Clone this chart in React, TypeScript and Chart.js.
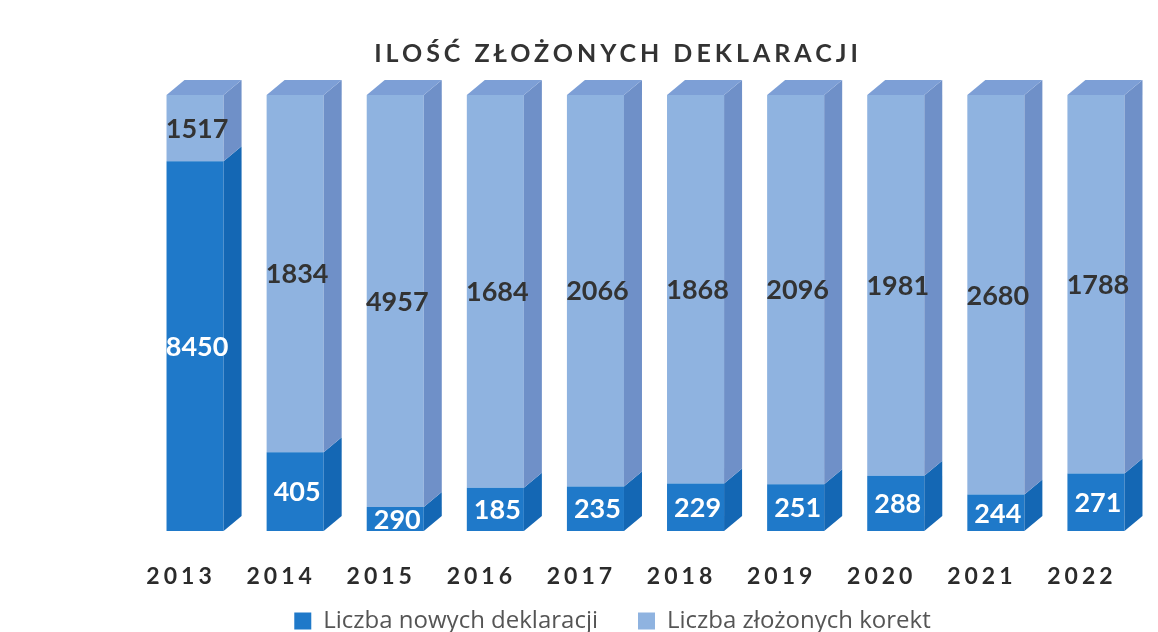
import React, { useEffect, useRef } from "react";
import { Chart, registerables } from "chart.js";

Chart.register(...registerables);

const categories = ["2013", "2014", "2015", "2016", "2017", "2018", "2019", "2020", "2021", "2022"];
const newDeclarations = [8450, 405, 290, 185, 235, 229, 251, 288, 244, 271];
const corrections = [1517, 1834, 4957, 1684, 2066, 1868, 2096, 1981, 2680, 1788];
const seriesNames = ["Liczba nowych deklaracji", "Liczba złożonych korekt"];
const titleText = "ILOŚĆ ZŁOŻONYCH DEKLARACJI";

const FRONT = ["#1f79c9", "#8fb3e0"];
const SIDE = ["#1467b4", "#6f90c8"];
const TOP = "#7d9fd6";
const DEPTH_X = 18;
const DEPTH_Y = 15;
const LEGEND_PAD = 40;
const LEGEND_FONT = 24;
const CHART_BOTTOM = 531;

const rawSeries = [newDeclarations, corrections];
const pct = (arr: number[]) =>
  arr.map((v, i) => (v / (newDeclarations[i] + corrections[i])) * 100);

const titlePlugin = {
  id: "customTitle",
  beforeDraw(chart: any) {
    const ctx = chart.ctx;
    ctx.save();
    ctx.font = "bold 25px Lato";
    (ctx as any).letterSpacing = "4px";
    ctx.fillStyle = "#333333";
    ctx.textAlign = "center";
    ctx.textBaseline = "alphabetic";
    ctx.fillText(titleText, 618, 62);
    ctx.restore();
  },
};

const legendPlacePlugin = {
  id: "legendPlace",
  afterLayout(chart: any) {
    const lg = chart.legend;
    if (!lg) return;
    const top = 621 - LEGEND_PAD - LEGEND_FONT / 2;
    lg.top = top;
    lg.bottom = top + 200;
    lg.left -= 33;
    lg.right -= 33;
  },
};

const bar3dPlugin = {
  id: "bar3d",
  afterDatasetsDraw(chart: any) {
    const ctx = chart.ctx;
    const n = chart.data.datasets.length;
    ctx.save();
    for (let d = 0; d < n; d++) {
      const meta = chart.getDatasetMeta(d);
      meta.data.forEach((bar: any) => {
        const p = bar.getProps(["x", "y", "base", "width"], true);
        const right = p.x + p.width / 2;
        const left = p.x - p.width / 2;
        const top = Math.min(p.y, p.base);
        const bottom = Math.max(p.y, p.base);
        ctx.fillStyle = SIDE[d];
        ctx.beginPath();
        ctx.moveTo(right, top);
        ctx.lineTo(right + DEPTH_X, top - DEPTH_Y);
        ctx.lineTo(right + DEPTH_X, bottom - DEPTH_Y);
        ctx.lineTo(right, bottom);
        ctx.closePath();
        ctx.fill();
        if (d === n - 1) {
          ctx.fillStyle = TOP;
          ctx.beginPath();
          ctx.moveTo(left, top);
          ctx.lineTo(left + DEPTH_X, top - DEPTH_Y);
          ctx.lineTo(right + DEPTH_X, top - DEPTH_Y);
          ctx.lineTo(right, top);
          ctx.closePath();
          ctx.fill();
        }
      });
    }
    ctx.font = "bold 27px Lato";
    ctx.textAlign = "center";
    ctx.textBaseline = "middle";
    for (let d = 0; d < n; d++) {
      const meta = chart.getDatasetMeta(d);
      ctx.fillStyle = d === 0 ? "#ffffff" : "#333333";
      meta.data.forEach((bar: any, i: number) => {
        const p = bar.getProps(["x", "y", "base"], true);
        ctx.fillText(String(rawSeries[d][i]), p.x + 2, (p.y + p.base) / 2 + 1);
      });
    }
    ctx.restore();
    (ctx as any).letterSpacing = "4px";
  },
  afterDraw(chart: any) {
    (chart.ctx as any).letterSpacing = "0px";
  },
};

export default function App() {
  const canvasRef = useRef<HTMLCanvasElement | null>(null);

  useEffect(() => {
    if (!canvasRef.current) return;
    const chart = new Chart(canvasRef.current, {
      type: "bar",
      data: {
        labels: categories,
        datasets: [
          {
            label: seriesNames[0],
            data: pct(newDeclarations),
            backgroundColor: FRONT[0],
            borderWidth: 0,
          },
          {
            label: seriesNames[1],
            data: pct(corrections),
            backgroundColor: FRONT[1],
            borderWidth: 0,
          },
        ],
      },
      options: {
        animation: false,
        responsive: true,
        maintainAspectRatio: false,
        datasets: { bar: { barPercentage: 0.57, categoryPercentage: 1 } },
        layout: { padding: { left: 145, right: 12, top: 95, bottom: 0 } },
        scales: {
          x: {
            stacked: true,
            grid: { display: false },
            border: { display: false },
            ticks: {
              z: 1,
              color: "#2b2b2b",
              font: { family: "Lato", size: 23, weight: "bold" },
              padding: 24,
              labelOffset: -14,
              maxRotation: 0,
            },
            afterFit: (scale: any) => {
              const lh = scale.chart.legend ? scale.chart.legend.height : 0;
              scale.height = 632 - CHART_BOTTOM - lh;
            },
          },
          y: {
            stacked: true,
            display: false,
            min: 0,
            max: 100,
          },
        },
        plugins: {
          title: { display: false },
          tooltip: { enabled: false },
          legend: {
            position: "bottom",
            maxHeight: 40,
            labels: {
              color: "#555555",
              font: { family: "Open Sans", size: LEGEND_FONT },
              boxWidth: 17,
              boxHeight: 17,
              padding: LEGEND_PAD,
            },
          },
        },
      },
      plugins: [titlePlugin, legendPlacePlugin, bar3dPlugin],
    });
    return () => chart.destroy();
  }, []);

  return (
    <div style={{ position: "absolute", left: 0, top: 0, width: 1158, height: 632, background: "#ffffff" }}>
      <canvas ref={canvasRef} />
    </div>
  );
}
